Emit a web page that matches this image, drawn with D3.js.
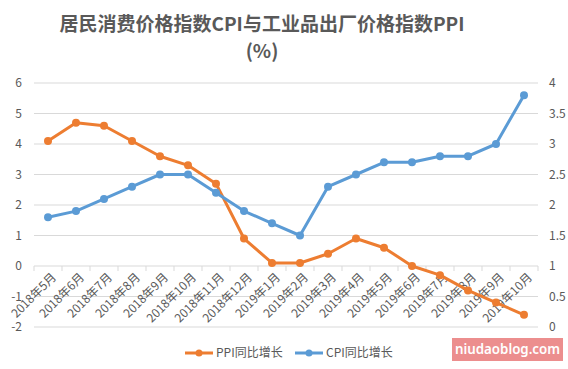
<!DOCTYPE html>
<html><head><meta charset="utf-8">
<script src="https://cdn.jsdelivr.net/npm/d3@7"></script>
<style>body{margin:0;background:#fff}svg{display:block}</style>
</head><body>
<svg id="c" width="568" height="369"></svg>
<script>
const months = ["2018年5月","2018年6月","2018年7月","2018年8月","2018年9月","2018年10月","2018年11月","2018年12月","2019年1月","2019年2月","2019年3月","2019年4月","2019年5月","2019年6月","2019年7月","2019年8月","2019年9月","2019年10月"];
const ppi = [4.1,4.7,4.6,4.1,3.6,3.3,2.7,0.9,0.1,0.1,0.4,0.9,0.6,0,-0.3,-0.8,-1.2,-1.6];
const cpi = [1.8,1.9,2.1,2.3,2.5,2.5,2.2,1.9,1.7,1.5,2.3,2.5,2.7,2.7,2.8,2.8,3.0,3.8];
const leftTicks = [-2,-1,0,1,2,3,4,5,6];
const rightTicks = [0,0.5,1,1.5,2,2.5,3,3.5,4];
const seriesNames = ["PPI同比增长","CPI同比增长"];
const colors = ["#ED7D31","#5B9BD5"];

const svg = d3.select("#c");
const font = "'Noto Sans CJK SC','Noto Sans',sans-serif";
const textCol = "#595959";
const L = 34, R = 538, T = 83, B = 327;

const x = d3.scaleBand().domain(months).range([L, R]);
const yL = d3.scaleLinear().domain([-2, 6]).range([B, T]);
const yR = d3.scaleLinear().domain([0, 4]).range([B, T]);

// title (one text element, two lines)
const title = svg.append("text").attr("text-anchor","middle")
  .attr("font-family", font).attr("font-size", 19).attr("font-weight", 600).attr("fill", textCol);
title.append("tspan").attr("x", 262).attr("y", 31).text("居民消费价格指数CPI与工业品出厂价格指数PPI");
title.append("tspan").attr("x", 262).attr("dy", 27).text("(%)");

// gridlines
svg.append("g").selectAll("line").data(leftTicks).join("line")
  .attr("x1", L).attr("x2", R).attr("y1", d => yL(d)).attr("y2", d => yL(d))
  .attr("stroke", "#d9d9d9").attr("stroke-width", 1);

// left axis labels
svg.append("g").selectAll("text").data(leftTicks).join("text")
  .attr("x", 22).attr("y", d => yL(d)).attr("dy","0.35em").attr("text-anchor","end")
  .attr("font-family", font).attr("font-size", 12).attr("fill", textCol).text(d => d);
// right axis labels
svg.append("g").selectAll("text").data(rightTicks).join("text")
  .attr("x", 549).attr("y", d => yR(d)).attr("dy","0.35em").attr("text-anchor","start")
  .attr("font-family", font).attr("font-size", 12).attr("fill", textCol).text(d => d);

// category axis at 0
const y0 = yL(0);
const bounds = months.map(m => x(m)).concat([R]);
svg.append("g").selectAll("line").data(bounds).join("line")
  .attr("x1", d => d).attr("x2", d => d).attr("y1", y0).attr("y2", y0 + 5)
  .attr("stroke", "#d9d9d9");
svg.append("g").selectAll("text").data(months).join("text")
  .attr("transform", d => `translate(${x(d) + x.bandwidth()/2 + 6},${y0 + 9}) rotate(-45)`)
  .attr("text-anchor","end").attr("dy","0.35em")
  .attr("font-family", font).attr("font-size", 12).attr("fill", textCol).text(d => d);

// series
function drawSeries(vals, yscale, color) {
  const line = d3.line().x((d,i) => x(months[i]) + x.bandwidth()/2).y(d => yscale(d));
  svg.append("path").datum(vals).attr("d", line).attr("fill","none")
    .attr("stroke", color).attr("stroke-width", 3).attr("stroke-linejoin","round");
  svg.append("g").selectAll("circle").data(vals).join("circle")
    .attr("cx", (d,i) => x(months[i]) + x.bandwidth()/2).attr("cy", d => yscale(d))
    .attr("r", 4).attr("fill", color);
}
drawSeries(ppi, yL, colors[0]);
drawSeries(cpi, yR, colors[1]);

// legend
const legX = [185, 295];
seriesNames.forEach((n, i) => {
  const g = svg.append("g");
  g.append("line").attr("x1", legX[i]).attr("x2", legX[i] + 28).attr("y1", 353).attr("y2", 353)
    .attr("stroke", colors[i]).attr("stroke-width", 3);
  g.append("circle").attr("cx", legX[i] + 14).attr("cy", 353).attr("r", 3.5).attr("fill", colors[i]);
  g.append("text").attr("x", legX[i] + 31).attr("y", 353).attr("dy","0.35em")
    .attr("font-family", font).attr("font-size", 12).attr("fill", textCol).text(n);
});

// watermark
svg.append("rect").attr("x", 452).attr("y", 338).attr("width", 111).attr("height", 23).attr("fill", "#ec8e8e");
svg.append("text").attr("x", 455).attr("y", 349.5).attr("dy","0.35em").attr("text-anchor","start")
  .attr("font-family", "'Noto Sans',sans-serif").attr("font-size", 14).attr("font-weight", 600)
  .attr("textLength", 105).attr("lengthAdjust", "spacingAndGlyphs")
  .attr("fill", "#fff").text("niudaoblog.com");
</script>
</body></html>
